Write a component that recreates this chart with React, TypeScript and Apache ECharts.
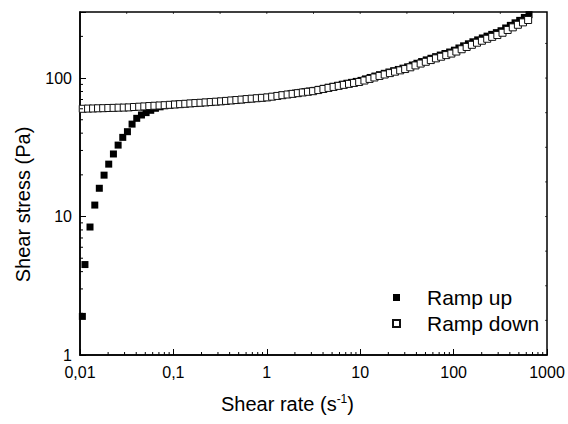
import React, { useEffect, useRef } from "react";
import * as echarts from "echarts";

// Ramp up (filled squares): shear rate (1/s) and shear stress (Pa)
const rampUpRate = [
  0.0106, 0.0113, 0.0128, 0.0144, 0.0161, 0.0181, 0.0203, 0.0228, 0.0256, 0.0287,
  0.0322, 0.0361, 0.0405, 0.0455, 0.051, 0.0572, 0.0642, 0.072, 0.0808, 0.0907,
  0.102, 0.114, 0.128, 0.144, 0.161, 0.181, 0.203, 0.228, 0.256, 0.287,
  0.322, 0.361, 0.405, 0.455, 0.51, 0.572, 0.642, 0.72, 0.808, 0.907,
  1.02, 1.14, 1.28, 1.44, 1.61, 1.81, 2.03, 2.28, 2.56, 2.87,
  3.22, 3.61, 4.05, 4.55, 5.1, 5.72, 6.42, 7.2, 8.08, 9.07,
  10.2, 11.4, 12.8, 14.4, 16.1, 18.1, 20.3, 22.8, 25.6, 28.7,
  32.2, 36.1, 40.5, 45.5, 51.0, 57.2, 64.2, 72.0, 80.8, 90.7,
  102, 114, 128, 144, 161, 181, 203, 228, 256, 287,
  322, 361, 405, 455, 510, 572, 642,
];
const rampUpStress = [
  1.9, 4.5, 8.4, 12.1, 16.0, 19.9, 23.9, 28.3, 32.8, 37.3,
  41.0, 46.5, 51.2, 54.1, 56.3, 58.5, 60.5, 62.0, 63.2, 64.0,
  64.6, 64.9, 65.2, 65.5, 65.8, 66.1, 66.5, 66.8, 67.2, 67.6,
  67.9, 68.3, 68.8, 69.3, 69.7, 70.2, 70.7, 71.2, 71.6, 72.1,
  72.6, 73.5, 74.4, 75.3, 76.1, 77.0, 77.9, 78.8, 79.7, 80.6,
  81.5, 82.9, 84.3, 85.8, 87.2, 88.6, 90.2, 91.7, 93.1, 94.6,
  96.2, 98.6, 101.0, 103.4, 105.8, 108.2, 110.6, 113.0, 115.4, 117.9,
  120.5, 124.2, 127.9, 131.6, 135.3, 139.0, 142.8, 146.6, 150.4, 154.2,
  159.0, 164.9, 170.9, 176.8, 182.8, 188.7, 194.8, 200.8, 206.8, 212.9,
  219.7, 230.0, 240.2, 250.6, 261.0, 274.0, 287.0,
];

// Ramp down (open squares)
const rampDownRate = [
  0.0107, 0.0122, 0.0138, 0.0156, 0.0177, 0.0201, 0.0229, 0.0259, 0.0294, 0.0333,
  0.0378, 0.043, 0.0488, 0.0552, 0.0627, 0.0711, 0.0807, 0.0916, 0.104, 0.118,
  0.134, 0.152, 0.172, 0.195, 0.221, 0.251, 0.285, 0.324, 0.366, 0.416,
  0.472, 0.536, 0.608, 0.689, 0.782, 0.887, 1.01, 1.14, 1.3, 1.47,
  1.67, 1.89, 2.15, 2.43, 2.76, 3.13, 3.56, 4.04, 4.58, 5.19,
  5.89, 6.68, 7.59, 8.59, 9.75, 11.1, 12.6, 14.2, 16.1, 18.3,
  20.8, 23.6, 26.8, 30.3, 34.4, 39.1, 44.4, 50.4, 57.0, 64.7,
  73.5, 83.4, 94.6, 107, 122, 138, 157, 178, 201, 229,
  259, 294, 334, 379, 430, 488, 553, 628,
];
const rampDownStress = [
  60.0, 60.2, 60.3, 60.5, 60.6, 60.8, 60.9, 61.1, 61.2, 61.4,
  61.8, 62.1, 62.4, 62.8, 63.1, 63.4, 63.7, 64.1, 64.4, 64.8,
  65.2, 65.6, 66.0, 66.3, 66.7, 67.1, 67.5, 67.9, 68.4, 68.9,
  69.4, 69.9, 70.5, 71.0, 71.5, 72.0, 72.5, 73.4, 74.3, 75.2,
  76.1, 76.9, 77.8, 78.7, 79.6, 80.4, 81.9, 83.4, 84.9, 86.3,
  87.8, 89.3, 90.8, 92.2, 93.7, 96.0, 98.6, 101.0, 103.6, 106.1,
  108.6, 111.2, 113.7, 116.2, 119.6, 123.4, 127.3, 131.1, 134.9, 138.8,
  142.6, 146.5, 150.3, 155.4, 161.5, 167.7, 173.8, 180.0, 186.0, 192.2,
  198.4, 204.5, 212.4, 222.5, 232.4, 242.5, 252.5, 262.6,
];

const seriesNames = ["Ramp up", "Ramp down"];
const xDecades = [0.01, 0.1, 1, 10, 100, 1000];
const yDecades = [1, 10, 100];
const xMin = 0.01;
const xMax = 1000;
const yMin = 1;
const yMax = 300;

const FONT = "'Liberation Sans', Arial, Helvetica, sans-serif";

function isDecade(v: number) {
  const l = Math.log10(v);
  return Math.abs(l - Math.round(l)) < 1e-6;
}

// minor tick values (2..9 times each decade)
const xMinor: number[] = [];
for (let i = 0; i < xDecades.length - 1; i++) {
  for (let m = 2; m <= 9; m++) xMinor.push(xDecades[i] * m);
}
const yMinor: number[] = [];
for (let i = 0; i < yDecades.length; i++) {
  for (let m = 2; m <= 9; m++) {
    const v = yDecades[i] * m;
    if (v < yMax) yMinor.push(v);
  }
}
// faint ticks on the top (half decades) and right (quarter decades) frame
const topTicks: number[] = [];
for (let k = 1; k < 10; k++) topTicks.push(Math.pow(10, -2 + 0.5 * k));
const rightTicks: number[] = [];
for (let k = 1; k < 10; k++) {
  const v = Math.pow(10, 0.25 * k);
  if (v < yMax) rightTicks.push(v);
}

function tickSeries(data: number[][], dx: number, dy: number, width: number) {
  return {
    type: "custom",
    silent: true,
    clip: false,
    z: 5,
    data,
    renderItem: (_params: any, api: any) => {
      const p = api.coord([api.value(0), api.value(1)]);
      return {
        type: "line",
        shape: { x1: p[0], y1: p[1], x2: p[0] + dx, y2: p[1] + dy },
        style: { stroke: "#000", lineWidth: width },
      };
    },
  };
}

export default function App() {
  const ref = useRef<HTMLDivElement>(null);

  useEffect(() => {
    if (!ref.current) return;
    const chart = echarts.init(ref.current, undefined, { renderer: "svg" });

    const option: any = {
      animation: false,
      backgroundColor: "#fff",
      textStyle: { fontFamily: FONT, color: "#000" },
      grid: {
        left: 80,
        right: 21,
        top: 12,
        bottom: 69,
        show: true,
        borderColor: "#000",
        borderWidth: 1.5,
        backgroundColor: "transparent",
      },
      legend: {
        data: seriesNames,
        orient: "vertical",
        left: 392,
        top: 287,
        padding: 0,
        itemWidth: 7,
        itemHeight: 7,
        itemGap: 5,
        textStyle: {
          fontFamily: FONT,
          fontSize: 21,
          color: "#000",
          lineHeight: 20,
          padding: [0, 0, 0, 22],
        },
      },
      xAxis: {
        type: "log",
        logBase: 10,
        min: xMin,
        max: xMax,
        name: "Shear rate (s{sup|-1})",
        nameLocation: "middle",
        nameGap: 38,
        nameTextStyle: {
          fontFamily: FONT,
          fontSize: 20,
          color: "#000",
          lineHeight: 22,
          padding: [0, 52, 0, 0],
          rich: {
            sup: { fontFamily: FONT, fontSize: 12, verticalAlign: "top", color: "#000", lineHeight: 22 },
          },
        },
        axisLine: { show: true, lineStyle: { color: "#000", width: 1.5 } },
        axisTick: { show: true, inside: true, length: 6, lineStyle: { color: "#000", width: 1 } },
        axisLabel: {
          fontFamily: FONT,
          fontSize: 16,
          color: "#000",
          margin: 9,
          formatter: (v: number) => String(Number(v.toPrecision(6))).replace(".", ","),
        },
        splitLine: { show: false },
      },
      yAxis: {
        type: "log",
        logBase: 10,
        min: yMin,
        max: yMax,
        name: "Shear stress (Pa)",
        nameLocation: "middle",
        nameGap: 47,
        nameTextStyle: {
          fontFamily: FONT,
          fontSize: 20,
          color: "#000",
          padding: [0, 42, 0, 0],
        },
        axisLine: { show: true, lineStyle: { color: "#000", width: 1.5 } },
        axisTick: { show: true, inside: true, length: 6, lineStyle: { color: "#000", width: 1 } },
        axisLabel: {
          fontFamily: FONT,
          fontSize: 16,
          color: "#000",
          margin: 8,
          formatter: (v: number) => (isDecade(v) ? String(Number(v.toPrecision(6))) : ""),
        },
        splitLine: { show: false },
      },
      series: [
        {
          name: seriesNames[0],
          type: "scatter",
          symbol: "rect",
          symbolSize: 7,
          itemStyle: { color: "#000", opacity: 1 },
          data: rampUpRate.map((x, i) => [x, rampUpStress[i]]),
          z: 2,
        },
        {
          name: seriesNames[1],
          type: "scatter",
          symbol: "rect",
          symbolSize: 7,
          itemStyle: { color: "#fff", borderColor: "#111", borderWidth: 1, opacity: 1 },
          data: rampDownRate.map((x, i) => [x, rampDownStress[i]]),
          z: 3,
        },
        tickSeries(xMinor.map((v) => [v, yMin]), 0, -3, 1),
        tickSeries(yMinor.map((v) => [xMin, v]), 3, 0, 1),
        tickSeries(topTicks.map((v) => [v, yMax]), 0, 2, 0.7),
        tickSeries(rightTicks.map((v) => [xMax, v]), -2, 0, 0.7),
      ],
    };

    chart.setOption(option);
    return () => chart.dispose();
  }, []);

  return (
    <div
      ref={ref}
      style={{ position: "absolute", left: 0, top: 0, width: 568, height: 424 }}
    />
  );
}
